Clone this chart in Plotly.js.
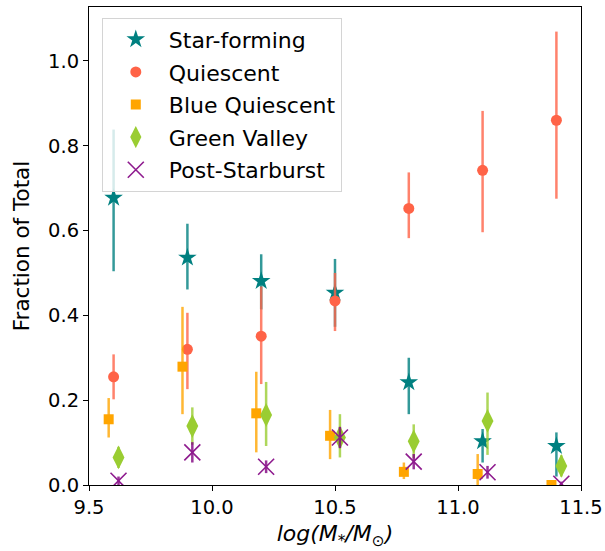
<!DOCTYPE html>
<html>
<head>
<meta charset="utf-8">
<script src="https://cdn.plot.ly/plotly-3.0.1.min.js"></script>
<style>html,body{margin:0;padding:0;background:#fff;}#chart{width:605px;height:551px;}</style>
</head>
<body>
<div id="chart"></div>
<script>
// x positions of mass bins (with small offsets per class)
const xSF  = [9.6, 9.9, 10.2, 10.5, 10.8, 11.1, 11.4];
const xQ   = [9.6, 9.9, 10.2, 10.5, 10.8, 11.1, 11.4];
const xBQ  = [9.58, 9.88, 10.18, 10.48, 10.78, 11.08, 11.38];
const xGV  = [9.62, 9.92, 10.22, 10.52, 10.82, 11.12, 11.42];
const xPSB = [9.62, 9.92, 10.22, 10.52, 10.82, 11.12, 11.42];

const ySF = [0.677, 0.536, 0.481, 0.453, 0.242, 0.103, 0.092];
const eSFp = [0.161, 0.080, 0.063, 0.080, 0.058, 0.029, 0.032];
const eSFm = [0.173, 0.075, 0.067, 0.080, 0.075, 0.050, 0.072];

const yQ = [0.255, 0.320, 0.351, 0.434, 0.652, 0.742, 0.860];
const eQp = [0.053, 0.086, 0.117, 0.066, 0.085, 0.140, 0.209];
const eQm = [0.053, 0.094, 0.113, 0.071, 0.070, 0.146, 0.185];

const yBQ = [0.155, 0.279, 0.169, 0.116, 0.031, 0.026, 0.0];
const eBQp = [0.050, 0.141, 0.098, 0.061, 0.022, 0.047, 0.005];
const eBQm = [0.043, 0.112, 0.092, 0.055, 0.017, 0.026, 0.0];

const yGV = [0.065, 0.139, 0.165, 0.112, 0.103, 0.151, 0.045];
const eGVp = [0.025, 0.044, 0.078, 0.055, 0.040, 0.067, 0.025];
const eGVm = [0.025, 0.044, 0.073, 0.047, 0.040, 0.080, 0.025];

const yPSB = [0.010, 0.077, 0.043, 0.112, 0.055, 0.030, 0.003];
const ePSB = [0.010, 0.024, 0.015, 0.025, 0.018, 0.015, 0.005];

const names = ["Star-forming", "Quiescent", "Blue Quiescent", "Green Valley", "Post-Starburst"];

function tr(name, x, y, ep, em, color, ecolor, symbol, size, extra) {
  return {
    type: 'scatter', mode: 'markers', name: name, legendgroup: name,
    x: x, y: y,
    error_y: {type: 'data', symmetric: false, array: ep, arrayminus: em,
              color: ecolor, thickness: 2.5, width: 0},
    marker: Object.assign({symbol: symbol, size: size, color: color, line: {width: 0}}, extra || {})
  };
}

const data = [
  tr(names[0], xSF, ySF, eSFp, eSFm, '#008080', 'rgba(0,128,128,0.8)', 'star', 14),
  tr(names[1], xQ, yQ, eQp, eQm, '#ff6347', 'rgba(255,99,71,0.8)', 'circle', 11),
  tr(names[2], xBQ, yBQ, eBQp, eBQm, '#ffa500', 'rgba(255,165,0,0.8)', 'square', 10),
  tr(names[3], xGV, yGV, eGVp, eGVm, '#9acd32', 'rgba(154,205,50,0.8)', 'diamond-tall', 17),
  tr(names[4], xPSB, yPSB, ePSB, ePSB, '#8e1a8e', 'rgba(128,0,128,0.8)', 'x-thin', 16,
     {line: {width: 1.6, color: '#8e1a8e'}})
];

const layout = {
  width: 605, height: 551,
  margin: {l: 89, r: 24, t: 7, b: 66},
  paper_bgcolor: '#fff', plot_bgcolor: '#fff',
  font: {family: 'DejaVu Sans, sans-serif', color: '#000'},
  showlegend: true,
  legend: {
    x: 0.026, y: 0.978, xanchor: 'left', yanchor: 'top',
    bgcolor: 'rgba(255,255,255,0.8)', bordercolor: '#d4d4d4', borderwidth: 1,
    font: {size: 22, family: 'DejaVu Sans, sans-serif', color: '#000'},
    traceorder: 'grouped', tracegroupgap: 1, itemwidth: 56
  },
  xaxis: {
    range: [9.5, 11.5], tickvals: [9.5, 10.0, 10.5, 11.0, 11.5],
    ticktext: ['9.5', '10.0', '10.5', '11.0', '11.5'],
    showgrid: false, zeroline: false,
    showline: true, mirror: true, linecolor: '#000', linewidth: 1,
    ticks: 'outside', ticklen: 5, tickwidth: 1, tickcolor: '#000',
    tickfont: {size: 19.5, family: 'DejaVu Sans, sans-serif', color: '#000'},
    title: {text: '<i>log(M<sub>*</sub>/M<sub>⊙</sub>)</i>', font: {size: 22, family: 'DejaVu Sans, sans-serif', color: '#000'}, standoff: 7}
  },
  yaxis: {
    range: [0, 1.127], tickvals: [0, 0.2, 0.4, 0.6, 0.8, 1.0],
    ticktext: ['0.0', '0.2', '0.4', '0.6', '0.8', '1.0'],
    showgrid: false, zeroline: false,
    showline: true, mirror: true, linecolor: '#000', linewidth: 1,
    ticks: 'outside', ticklen: 5, tickwidth: 1, tickcolor: '#000',
    tickfont: {size: 19.5, family: 'DejaVu Sans, sans-serif', color: '#000'},
    title: {text: 'Fraction of Total', font: {size: 21.5, family: 'DejaVu Sans, sans-serif', color: '#000'}, standoff: 12}
  }
};

Plotly.newPlot('chart', data, layout, {displayModeBar: false, staticPlot: true});
</script>
</body>
</html>
